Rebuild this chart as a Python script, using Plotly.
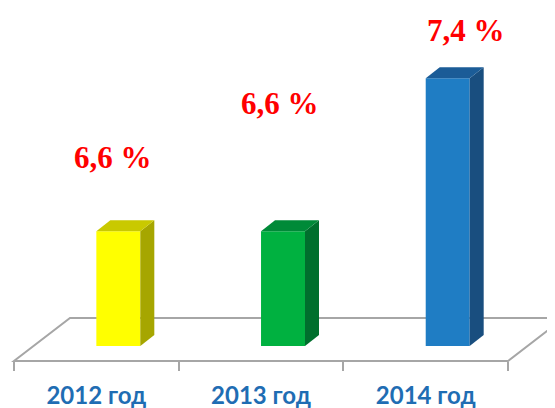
import plotly.graph_objects as go

# ---- data ----
categories = ["2012 год", "2013 год", "2014 год"]
values = [6.6, 6.6, 7.4]
value_labels = ["6,6 %", "6,6 %", "7,4 %"]

# ---- styles ----
front_colors = ["#FFFF00", "#00B140", "#1F7DC4"]
side_colors = ["#A6A600", "#006F2D", "#194E7F"]
top_colors = ["#C9C900", "#008A38", "#1B5C97"]
label_shifts = [(17, 74), (19, 128), (40, 48)]  # px offsets of value labels

BASE = 6.0
BAR_W = 0.267
DX, DY = 0.085, 0.0575        # 3D depth offset in axis units
FLOOR_FRONT, FLOOR_BACK, FLOOR_SHIFT = 5.9216, 6.1464, 0.34

xs = list(range(len(categories)))

fig = go.Figure()

# front faces
fig.add_trace(go.Bar(
    x=xs, y=[v - BASE for v in values], base=BASE,
    width=BAR_W, offset=0,
    marker=dict(color=front_colors, line=dict(width=0)),
    hoverinfo="skip", showlegend=False,
))

# side and top faces
for i, v in enumerate(values):
    xl, xr = xs[i], xs[i] + BAR_W
    fig.add_trace(go.Scatter(
        x=[xr, xr + DX, xr + DX, xr, xr],
        y=[BASE, BASE + DY, v + DY, v, BASE],
        fill="toself", fillcolor=side_colors[i], mode="lines",
        line=dict(width=0, color=side_colors[i]),
        hoverinfo="skip", showlegend=False,
    ))
    fig.add_trace(go.Scatter(
        x=[xl, xl + DX, xr + DX, xr, xl],
        y=[v, v + DY, v + DY, v, v],
        fill="toself", fillcolor=top_colors[i], mode="lines",
        line=dict(width=0, color=top_colors[i]),
        hoverinfo="skip", showlegend=False,
    ))

# floor
x0, x1 = xs[0] - 0.5, xs[-1] + 0.5
fig.add_shape(
    type="path", xref="x", yref="y", layer="below",
    path=(f"M {x0} {FLOOR_FRONT} L {x1} {FLOOR_FRONT} "
          f"L {x1 + FLOOR_SHIFT} {FLOOR_BACK} L {x0 + FLOOR_SHIFT} {FLOOR_BACK} Z"),
    line=dict(color="#A6A6A6", width=2), fillcolor="rgba(0,0,0,0)",
)

# value labels
for i, v in enumerate(values):
    fig.add_annotation(
        x=xs[i], y=v, xref="x", yref="y",
        text=f"<b>{value_labels[i]}</b>", showarrow=False,
        xshift=label_shifts[i][0], yshift=label_shifts[i][1],
        font=dict(family="Liberation Serif", size=31, color="#FF0000"),
        xanchor="center", yanchor="middle",
    )

fig.update_layout(
    width=547, height=400,
    margin=dict(l=0, r=0, t=0, b=0),
    paper_bgcolor="white", plot_bgcolor="white",
    xaxis=dict(
        range=[-0.5364, 2.785],
        tickvals=xs, ticktext=[f"<b>{c}</b>" for c in categories],
        ticks="outside", ticklen=13, tickcolor="rgba(0,0,0,0)",
        tickfont=dict(family="Lato", size=24, color="#1F6DB3"),
        minor=dict(tickvals=[x - 0.5 for x in xs] + [xs[-1] + 0.5],
                   ticks="outside", ticklen=9, tickwidth=2, tickcolor="#A6A6A6"),
        showgrid=False, zeroline=False, showline=False,
        anchor="free", position=47 / 400,
    ),
    yaxis=dict(range=[5.676, 7.767], visible=False),
)

fig.write_html("out.html")
